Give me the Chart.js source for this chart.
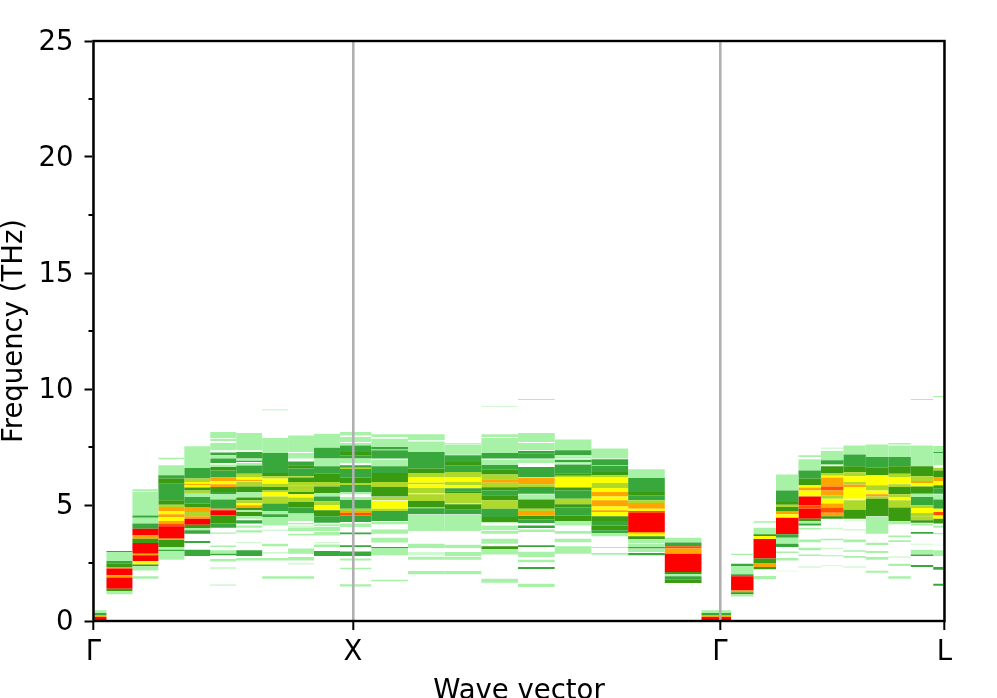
<!DOCTYPE html>
<html>
<head>
<meta charset="utf-8">
<title>Phonon spectral function</title>
<script src="https://cdn.jsdelivr.net/npm/chart.js@4"></script>
<style>
  html, body { margin: 0; padding: 0; background: #fff; overflow: hidden; }
  canvas { display: block; }
</style>
</head>
<body>
<canvas id="chart" width="997" height="698"></canvas>
<script>
// tick labels and where they sit along the path (reciprocal distance)
const pathLabels = ["Γ", "X", "Γ", "L"];
const pathTicks = [0, 1, 2.4142, 3.2802];
const majorFreqTicks = [0, 5, 10, 15, 20, 25];
const minorFreqTicks = [2.5, 7.5, 12.5, 17.5, 22.5];

// edges of the q-point cells along the path
const qEdges = [-0.05, 0.05, 0.15, 0.25, 0.35, 0.45, 0.55, 0.65, 0.75, 0.85, 0.95,
    1.0707, 1.2121, 1.3536, 1.495, 1.6364, 1.7778, 1.9192, 2.0607, 2.2021, 2.3435,
    2.4575, 2.5441, 2.6307, 2.7173, 2.8039, 2.8905, 2.9771, 3.0637, 3.1503, 3.2369, 3.3235];

// intensity levels, weakest to strongest
const levelColors = ["#d2f8d2", "#a8f2a8", "#38a83c", "#3a9a10", "#aed82a", "#ffff00", "#ffa500", "#ff5000", "#ff0000"];

// one list per q-point: [low THz, high THz, intensity level]
const col00 = [[0.34,0.46,1],[0.24,0.34,2],[0.17,0.24,6],[0,0.17,8]];
const col01 = [[2.97,3.02,2],[2.59,2.97,1],[2.47,2.59,2],[2.33,2.47,3],[2.26,2.33,6],[1.97,2.26,8],[1.87,1.97,6],[1.39,1.87,8],[1.29,1.39,3],[1.15,1.29,1]];
const col02 = [[5.59,5.68,1],[4.55,5.56,1],[4.45,4.55,2],[4.20,4.45,1],[3.98,4.20,2],[3.69,3.98,8],[3.55,3.69,6],[3.36,3.55,3],[2.90,3.36,8],[2.83,2.90,6],[2.59,2.83,8],[2.44,2.59,5],[2.36,2.44,3],[2.18,2.36,1],[1.82,1.93,1]];
const col03 = [[6.97,7.04,1],[6.28,6.71,1],[6.14,6.28,2],[5.92,6.14,3],[5.73,5.92,2],[5.20,5.73,2],[5.01,5.20,3],[4.91,5.01,4],[4.74,4.91,6],[4.60,4.74,5],[4.48,4.60,6],[4.31,4.48,5],[4.20,4.31,6],[4.08,4.20,7],[3.55,4.08,8],[3.51,3.55,5],[3.19,3.51,3],[3.07,3.19,1],[3.02,3.07,2],[2.64,3.02,1]];
const col04 = [[6.59,7.53,1],[6.14,6.59,2],[5.99,6.14,4],[5.92,5.99,5],[5.85,5.92,6],[5.75,5.85,5],[5.63,5.75,3],[5.49,5.63,4],[5.34,5.49,1],[5.06,5.34,2],[4.91,5.06,3],[4.70,4.91,6],[4.51,4.70,4],[4.41,4.51,6],[4.15,4.41,8],[4.01,4.15,3],[3.91,4.01,1],[3.76,3.91,2],[3.36,3.45,2],[2.80,3.07,2]];
const col05 = [[7.89,8.15,1],[7.76,7.86,1],[7.36,7.67,1],[7.14,7.26,2],[7.00,7.14,1],[6.81,7.00,2],[6.64,6.75,1],[6.49,6.64,3],[6.18,6.49,2],[6.03,6.18,6],[5.89,6.03,5],[5.78,5.89,6],[5.56,5.78,3],[5.46,5.56,2],[5.24,5.46,1],[4.84,5.24,2],[4.77,4.84,6],[4.55,4.77,8],[4.20,4.55,3],[4.02,4.20,2],[3.76,3.81,1],[3.19,3.25,1],[2.90,3.05,1],[2.83,2.90,2],[2.57,2.67,1],[2.23,2.33,0],[1.51,1.58,0]];
const col06 = [[7.36,8.10,1],[7.00,7.28,2],[6.91,7.00,1],[6.85,6.91,2],[6.70,6.81,1],[6.35,6.70,2],[6.18,6.35,4],[6.09,6.18,5],[6.03,6.09,6],[5.99,6.03,5],[5.80,5.99,4],[5.56,5.80,3],[5.32,5.56,1],[5.20,5.32,3],[5.09,5.20,4],[4.99,5.09,5],[4.91,4.99,6],[4.89,4.91,5],[4.77,4.89,3],[4.70,4.77,1],[4.53,4.70,3],[4.41,4.53,1],[4.20,4.34,2],[4.02,4.12,1],[3.81,3.91,1],[3.36,3.41,0],[2.80,3.05,2],[2.61,2.72,1]];
const col07 = [[9.08,9.12,1],[7.24,7.89,1],[6.38,7.24,2],[6.24,6.38,3],[6.14,6.24,4],[5.92,6.14,5],[5.78,5.92,4],[5.63,5.78,3],[5.56,5.63,4],[5.37,5.56,5],[5.06,5.37,4],[4.74,5.06,2],[4.60,4.74,1],[4.48,4.60,2],[4.31,4.48,1],[4.12,4.31,1],[3.88,3.94,0],[3.22,3.33,1],[2.90,2.97,0],[2.61,2.72,1],[1.82,1.93,1]];
const col08 = [[7.28,8.00,1],[7.00,7.24,1],[6.71,6.88,2],[6.57,6.71,3],[6.24,6.57,2],[6.18,6.24,4],[5.99,6.18,3],[5.85,5.99,4],[5.56,5.85,4],[5.46,5.56,3],[5.32,5.46,5],[5.13,5.32,4],[4.89,5.13,3],[4.63,4.89,2],[4.31,4.63,1],[4.17,4.22,1],[4.02,4.12,0],[3.88,4.02,1],[3.69,3.76,1],[2.90,3.12,1],[2.61,2.76,1],[2.43,2.50,0],[1.82,1.93,1]];
const col09 = [[7.47,8.07,1],[7.00,7.47,2],[6.67,7.00,1],[6.35,6.67,2],[5.99,6.35,3],[5.80,5.99,4],[5.52,5.80,3],[5.37,5.52,1],[5.16,5.37,2],[4.99,5.16,4],[4.77,4.99,5],[4.51,4.77,3],[4.24,4.51,2],[4.08,4.17,1],[3.88,4.05,1],[3.69,3.84,1],[3.38,3.41,1],[3.19,3.30,1],[2.80,3.02,2]];
const col10 = [[8.00,8.15,1],[7.72,7.93,1],[7.57,7.67,1],[7.28,7.57,2],[7.14,7.28,3],[7.00,7.14,2],[6.81,7.00,1],[6.61,6.71,2],[6.55,6.61,4],[6.18,6.55,2],[5.95,6.18,3],[5.86,5.95,4],[5.56,5.86,2],[5.46,5.56,1],[5.24,5.34,1],[4.84,5.23,2],[4.74,4.84,4],[4.66,4.74,6],[4.55,4.66,7],[4.27,4.55,2],[4.05,4.20,1],[3.74,3.81,2],[3.19,3.26,2],[2.80,3.00,2],[2.61,2.69,1],[2.23,2.30,1],[1.49,1.58,1]];
const col11 = [[7.93,8.05,1],[7.50,7.86,1],[7.39,7.50,2],[7.00,7.36,2],[6.67,6.95,1],[6.38,6.67,2],[5.99,6.38,3],[5.78,5.99,4],[5.56,5.78,3],[5.37,5.56,3],[5.20,5.34,4],[4.84,5.17,5],[4.74,4.84,4],[4.31,4.74,2],[4.17,4.27,1],[3.76,3.94,1],[3.38,3.59,1],[3.15,3.19,2],[2.83,3.15,1],[1.71,1.78,1]];
const col12 = [[7.79,8.05,1],[7.28,7.74,1],[6.57,7.28,2],[6.38,6.57,3],[6.18,6.38,4],[5.96,6.18,5],[5.89,5.96,4],[5.73,5.89,5],[5.52,5.73,4],[5.46,5.52,5],[5.17,5.46,4],[4.91,5.17,3],[4.86,4.91,4],[4.60,4.86,2],[3.88,4.57,1],[3.15,3.33,1],[2.83,2.97,0],[2.64,2.77,1],[2.01,2.16,1]];
const col13 = [[7.64,7.67,1],[7.17,7.61,1],[6.85,7.14,2],[6.71,6.85,3],[6.42,6.71,2],[6.18,6.42,4],[5.99,6.18,5],[5.85,5.99,4],[5.72,5.85,5],[5.59,5.72,2],[5.52,5.59,3],[5.06,5.52,4],[4.80,5.03,3],[4.60,4.80,2],[3.88,4.57,1],[3.15,3.29,1],[2.80,2.97,1],[2.64,2.77,1],[2.01,2.16,1]];
const col14 = [[9.22,9.25,1],[7.93,8.05,1],[7.24,7.89,1],[7.00,7.24,2],[6.72,6.95,1],[6.52,6.72,2],[6.32,6.52,3],[6.11,6.32,4],[5.96,6.11,6],[5.77,5.96,4],[5.63,5.77,3],[5.42,5.63,2],[5.20,5.42,3],[4.84,5.20,4],[4.48,4.84,2],[4.27,4.48,3],[4.24,4.27,1],[3.91,4.12,1],[3.76,3.88,1],[3.33,3.55,1],[3.10,3.22,3],[2.87,3.10,1],[1.65,1.82,1]];
const col15 = [[9.53,9.57,1],[7.72,8.10,1],[7.36,7.67,1],[7.21,7.33,2],[7.00,7.21,2],[6.81,6.97,1],[6.21,6.64,2],[5.89,6.18,6],[5.78,5.89,4],[5.49,5.78,2],[5.24,5.46,1],[4.84,5.24,3],[4.74,4.84,4],[4.57,4.74,6],[4.37,4.55,3],[4.22,4.37,2],[4.01,4.12,2],[3.84,3.94,1],[3.19,3.26,2],[2.76,2.99,1],[2.53,2.64,1],[2.24,2.33,2],[1.47,1.61,1]];
const col16 = [[7.36,7.82,1],[7.14,7.36,2],[7.00,7.10,1],[6.85,6.95,2],[6.78,6.85,1],[6.35,6.75,2],[6.26,6.35,3],[6.18,6.26,4],[5.75,6.18,5],[5.63,5.75,3],[5.27,5.63,2],[5.03,5.27,4],[4.89,5.03,3],[4.55,4.89,2],[4.30,4.55,3],[4.12,4.30,1],[3.76,3.88,1],[3.39,3.55,1],[2.90,3.22,1]];
const col17 = [[7.00,7.43,1],[6.72,6.97,2],[6.42,6.70,2],[6.28,6.42,3],[6.18,6.28,4],[5.95,6.18,5],[5.73,5.95,4],[5.56,5.73,5],[5.37,5.56,6],[5.20,5.37,5],[4.94,5.20,6],[4.77,4.94,5],[4.70,4.77,6],[4.51,4.70,5],[4.31,4.51,3],[4.12,4.31,2],[3.91,4.12,3],[3.79,3.91,2],[3.65,3.79,1],[3.15,3.19,1],[2.86,2.93,1]];
const col18 = [[6.16,6.54,1],[5.56,6.16,2],[5.42,5.56,3],[5.20,5.42,2],[5.09,5.20,4],[4.84,5.09,6],[4.74,4.84,5],[4.66,4.74,7],[3.84,4.66,8],[3.76,3.84,6],[3.65,3.76,5],[3.52,3.65,3],[3.36,3.52,1],[3.19,3.33,1],[3.12,3.19,2],[2.97,3.12,1],[2.83,2.93,2]];
const col19 = [[3.38,3.59,1],[3.22,3.38,2],[3.12,3.22,7],[2.90,3.12,6],[2.11,2.90,8],[2.01,2.11,3],[1.93,2.01,1],[1.78,1.93,2],[1.64,1.78,3]];
const col20 = [[0.34,0.46,1],[0.24,0.34,2],[0.17,0.24,6],[0,0.17,8]];
const col21 = [[2.84,2.90,1],[2.37,2.47,2],[2.01,2.37,1],[1.93,2.01,2],[1.32,1.93,8],[1.24,1.32,6],[1.15,1.24,3],[1.06,1.15,1]];
const col22 = [[4.24,4.30,1],[3.74,4.02,1],[3.66,3.74,3],[3.53,3.66,5],[2.69,3.53,8],[2.50,2.69,3],[2.33,2.50,6],[2.23,2.33,3],[1.80,1.94,1]];
const col23 = [[5.63,6.32,1],[5.13,5.63,2],[5.01,5.13,3],[4.91,5.01,4],[4.74,4.91,3],[4.60,4.74,6],[4.45,4.60,5],[3.74,4.45,8],[3.59,3.74,2],[3.33,3.59,1],[3.19,3.33,2],[2.93,3.00,1],[2.61,2.72,1],[2.14,2.17,0]];
const col24 = [[7.07,7.14,1],[6.49,6.97,1],[6.14,6.49,2],[6.03,6.14,3],[5.85,6.03,3],[5.75,5.85,5],[5.63,5.75,6],[5.37,5.63,5],[4.99,5.37,8],[4.84,4.99,7],[4.41,4.84,8],[4.31,4.41,3],[4.20,4.31,1],[4.12,4.20,2],[3.94,4.02,1],[3.39,3.51,1],[3.05,3.16,1],[2.80,2.87,1],[2.30,2.36,0]];
const col25 = [[7.43,7.47,1],[6.93,7.33,1],[6.75,6.93,2],[6.71,6.75,1],[6.38,6.67,3],[6.26,6.38,4],[6.18,6.26,5],[5.80,6.18,6],[5.63,5.80,7],[5.42,5.63,6],[5.27,5.42,4],[5.06,5.27,5],[4.89,5.06,6],[4.67,4.89,7],[4.51,4.67,6],[4.41,4.51,3],[3.94,4.02,0],[3.48,3.55,1],[3.10,3.16,0],[2.79,2.83,1],[2.36,2.40,0]];
const col26 = [[7.18,7.57,1],[6.67,7.18,2],[6.41,6.67,3],[6.24,6.41,4],[5.99,6.24,5],[5.88,5.99,4],[5.78,5.88,6],[5.56,5.78,5],[5.27,5.56,5],[4.80,5.20,4],[4.41,4.80,3],[4.30,4.34,0],[3.91,3.94,1],[3.39,3.51,1],[2.99,3.05,1],[2.73,2.80,1],[2.30,2.36,0]];
const col27 = [[7.07,7.61,1],[6.61,7.07,2],[6.28,6.61,3],[5.85,6.28,5],[5.63,5.85,4],[5.46,5.63,5],[5.37,5.46,6],[5.27,5.37,4],[4.51,5.27,3],[3.76,4.48,1],[3.28,3.37,1],[2.93,3.02,1],[2.64,2.76,1],[2.08,2.17,1]];
const col28 = [[7.61,7.67,1],[7.07,7.57,1],[6.67,7.07,2],[6.35,6.67,3],[6.18,6.35,4],[5.89,6.18,5],[5.78,5.89,4],[5.46,5.78,3],[5.32,5.46,4],[5.20,5.32,5],[4.89,5.20,4],[4.30,4.89,3],[4.17,4.27,1],[3.61,3.69,1],[3.41,3.48,1],[2.73,2.79,0],[2.37,2.47,1],[1.82,1.93,1]];
const col29 = [[9.53,9.57,1],[6.85,7.57,1],[6.67,6.85,1],[6.24,6.67,3],[6.03,6.24,4],[5.95,6.03,6],[5.80,5.95,5],[5.49,5.80,3],[5.34,5.49,1],[4.99,5.34,2],[4.87,4.99,4],[4.66,4.87,5],[4.51,4.66,4],[4.34,4.51,4],[4.24,4.34,3],[4.12,4.20,1],[3.76,3.84,2],[3.29,3.33,0],[2.87,3.07,1],[2.80,2.87,2],[2.33,2.41,2]];
const col30 = [[9.66,9.70,1],[7.28,7.54,1],[7.24,7.28,2],[6.71,7.24,1],[6.49,6.61,4],[6.18,6.49,3],[6.03,6.18,6],[5.85,6.03,5],[5.70,5.85,3],[5.49,5.70,2],[5.24,5.46,1],[4.84,5.24,2],[4.70,4.84,5],[4.55,4.70,7],[4.41,4.55,5],[4.20,4.41,3],[4.02,4.12,1],[3.74,3.79,1],[3.25,3.29,0],[2.80,3.05,1],[2.21,2.33,2],[1.52,1.61,2]];

const columns = [col00, col01, col02, col03, col04, col05, col06, col07, col08, col09, col10,
    col11, col12, col13, col14, col15, col16, col17, col18, col19, col20,
    col21, col22, col23, col24, col25, col26, col27, col28, col29, col30];

const tickFont = { family: "'DejaVu Sans', sans-serif", size: 27.5 };
const smallestStep = 0.0866; // Γ-L step, the tightest spacing of the cells

// one bar dataset per q-point, bar width follows the cell width on the x scale
const datasets = columns.map((bands, i) => {
    const center = (qEdges[i] + qEdges[i + 1]) / 2;
    return {
        data: bands.map(b => ({ x: center, y: [b[0], b[1]] })),
        backgroundColor: bands.map(b => levelColors[b[2]]),
        borderWidth: 0,
        grouped: false,
        categoryPercentage: 1,
        barPercentage: (qEdges[i + 1] - qEdges[i]) / smallestStep
    };
});

// frame on all four sides and the short minor ticks on the frequency axis
const framePlugin = {
    id: "frame",
    afterDraw(chart) {
        const { ctx, chartArea, scales } = chart;
        ctx.save();
        ctx.strokeStyle = "#000";
        ctx.lineWidth = 2.4;
        ctx.strokeRect(chartArea.left, chartArea.top, chartArea.right - chartArea.left, chartArea.bottom - chartArea.top);
        ctx.lineWidth = 2;
        ctx.beginPath();
        minorFreqTicks.forEach(v => {
            const py = Math.round(scales.y.getPixelForValue(v));
            ctx.moveTo(chartArea.left - 5, py);
            ctx.lineTo(chartArea.left, py);
        });
        ctx.stroke();
        ctx.restore();
    }
};

new Chart(document.getElementById("chart").getContext("2d"), {
    type: "bar",
    data: { datasets: datasets },
    plugins: [framePlugin],
    options: {
        responsive: false,
        animation: false,
        devicePixelRatio: 1,
        layout: { autoPadding: false, padding: { top: 41, right: 52.5, left: 0, bottom: 0 } },
        plugins: { legend: { display: false }, tooltip: { enabled: false } },
        scales: {
            x: {
                type: "linear",
                offset: false,
                min: pathTicks[0],
                max: pathTicks[3],
                afterBuildTicks: axis => { axis.ticks = pathTicks.map(v => ({ value: v })); },
                afterFit: axis => { axis.height = 77; },
                ticks: {
                    autoSkip: false,
                    maxRotation: 0,
                    color: "#000",
                    padding: 6,
                    font: tickFont,
                    callback: (value) => pathLabels[pathTicks.indexOf(value)]
                },
                grid: { offset: false, color: "#b0b0b0", lineWidth: 2.6, z: 1, tickLength: 9, tickColor: "#000", tickWidth: 2 },
                border: { display: false },
                title: { display: true, text: "Wave vector", color: "#000", font: tickFont, padding: { top: 0, bottom: -10 } }
            },
            y: {
                min: 0,
                max: 25,
                afterBuildTicks: axis => { axis.ticks = majorFreqTicks.map(v => ({ value: v })); },
                afterFit: axis => { axis.width = 93.5; },
                ticks: { color: "#000", padding: 11, labelOffset: 2, font: tickFont },
                grid: { drawOnChartArea: false, tickLength: 9, tickColor: "#000", tickWidth: 2 },
                border: { display: false },
                title: { display: true, text: "Frequency (THz)", color: "#000", font: tickFont, padding: { top: -2, bottom: 0 } }
            }
        }
    }
});
</script>
</body>
</html>
